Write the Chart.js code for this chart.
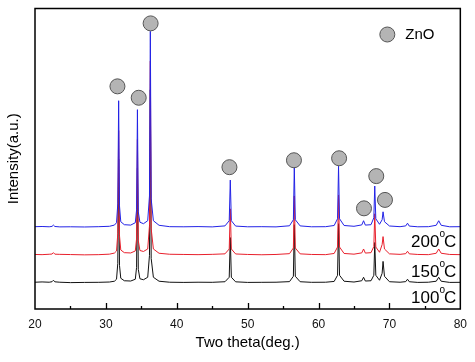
<!DOCTYPE html>
<html>
<head>
<meta charset="utf-8">
<script src="https://cdn.jsdelivr.net/npm/chart.js@4.4.0/dist/chart.umd.min.js"></script>
<style>
  body { margin: 0; background: #fff; }
</style>
</head>
<body>
<canvas id="xrd" width="475" height="362"></canvas>
<script>
"use strict";
///////////////////////////////
//Data

// 2 theta positions (deg.)
const twoTheta = [
  20, 21, 22, 22.4, 22.6, 22.8, 23.5,
  25, 27, 29, 30.5,
  31.2, 31.5, 31.68, 31.8, 31.92, 32.1, 32.6,
  33.5, 34.15, 34.33, 34.45, 34.57, 34.8,
  35.3, 35.9, 36.15, 36.27, 36.39, 36.7,
  37.5, 39, 41, 43, 45,
  46.8, 47.4, 47.55, 47.7, 48.3,
  50, 52, 54,
  55.9, 56.45, 56.58, 56.72, 57.4,
  59, 61,
  62.2, 62.68, 62.82, 62.96, 63.6,
  65, 66.1, 66.35, 66.6,
  67.4, 67.8, 67.93, 68.08, 68.6,
  68.97, 69.1, 69.3, 70,
  71.5, 72.3, 72.55, 72.8,
  74, 75.5,
  76.6, 76.95, 77.3,
  78.5, 80,
];

// intensities (a.u.) for each sample
const int100 = [
  1, 1.3, 1, 1.5, 3, 1.4, 1,
  0.6, 0.8, 0.9, 1.2,
  2, 4, 20, 125, 18, 5, 2.5,
  2.2, 4, 16, 116, 14, 4.5,
  3.5, 6, 28, 195, 25, 6,
  2, 1, 0.8, 1, 0.9,
  1.5, 6, 46, 6, 1.4,
  0.8, 0.9, 1,
  1.6, 7, 59, 7, 1.5,
  0.9, 1,
  1.8, 8, 60, 8, 2,
  1.2, 2.5, 6, 2.2,
  2.5, 8, 41, 8, 3,
  10, 22, 7, 1.5,
  1, 1.6, 4, 1.5,
  0.8, 1,
  2, 6, 2,
  0.8, 0.9,
];
const int150 = [
  1, 0.8, 1.2, 1.4, 2.8, 1.3, 1.1,
  0.9, 0.6, 0.8, 1.3,
  2.4, 4.5, 22, 126, 20, 5.5, 2.8,
  2.5, 4.5, 17, 117, 15, 5,
  4, 6.5, 30, 196, 27, 6.5,
  2.2, 1.2, 1, 0.8, 1.1,
  1.6, 6.5, 47, 6.5, 1.5,
  1, 0.7, 1,
  1.8, 7.5, 60, 7.5, 1.6,
  1, 0.8,
  2, 8.5, 61, 8.5, 2,
  1.3, 2.6, 6.5, 2.4,
  2.8, 9, 42, 8.5, 3.2,
  11, 19, 6.5, 1.6,
  1.1, 1.8, 4.2, 1.6,
  1, 0.8,
  2.2, 6.5, 2.2,
  1, 0.8,
];
const int200 = [
  1, 1.2, 0.9, 1.3, 2.6, 1.2, 0.8,
  0.9, 0.7, 1, 1.4,
  2.6, 5, 24, 128, 22, 6, 3,
  2.6, 5, 18, 119, 16, 5.5,
  4, 7, 32, 198, 29, 7,
  2.4, 1, 0.9, 1.1, 0.8,
  1.8, 7, 48, 7, 1.6,
  0.9, 1, 0.8,
  1.9, 8, 61, 8, 1.8,
  0.9, 1,
  2.2, 9, 62, 9, 2.2,
  1.4, 2.8, 7, 2.6,
  3, 10, 42, 9, 3.4,
  8, 16, 6, 1.7,
  1, 1.8, 4.5, 1.6,
  0.9, 1,
  2.4, 7, 2.4,
  0.9, 1,
];

// vertical offsets of the stacked patterns
const offsets = [26, 54, 82];
const sampleLabels = ["100", "150", "200"];

// ZnO peak markers
const markerTheta = [31.63, 34.63, 36.31, 47.43, 56.53, 62.9, 66.41, 68.14, 69.37];
const markerHeight = [224.5, 213, 288, 143, 150, 152, 101.5, 134, 110];

const xTicks = [20, 30, 40, 50, 60, 70, 80];

//////////////////////////////
//Helpers
const fontFamily = "Arial, 'Liberation Sans', sans-serif";

const toPoints = function (values, offset) {
  return twoTheta.map((t, i) => ({ x: t, y: values[i] + offset }));
};

// frame, inward ticks, legend and sample labels
const decorPlugin = {
  id: "decor",
  afterDraw(chart) {
    const { ctx, chartArea } = chart;
    const xs = chart.scales.x;
    ctx.save();

    // inward ticks on the bottom axis
    ctx.strokeStyle = "#000";
    ctx.lineWidth = 1.3;
    for (let v = 25; v < 80; v += 5) {
      const px = Math.round(xs.getPixelForValue(v)) + 0.5;
      const len = v % 10 === 0 ? 6 : 3;
      ctx.beginPath();
      ctx.moveTo(px, chartArea.bottom);
      ctx.lineTo(px, chartArea.bottom - len);
      ctx.stroke();
    }

    // box
    ctx.lineWidth = 1.5;
    ctx.strokeRect(
      chartArea.left,
      chartArea.top,
      chartArea.right - chartArea.left,
      chartArea.bottom - chartArea.top
    );

    // legend
    ctx.beginPath();
    ctx.arc(chartArea.right - 73, chartArea.top + 26, 7.5, 0, Math.PI * 2);
    ctx.fillStyle = "#b4b4b4";
    ctx.fill();
    ctx.lineWidth = 1;
    ctx.strokeStyle = "#555";
    ctx.stroke();
    ctx.fillStyle = "#000";
    ctx.font = `15px ${fontFamily}`;
    ctx.textBaseline = "middle";
    ctx.textAlign = "left";
    ctx.fillText("ZnO", chartArea.right - 55, chartArea.top + 26);

    // sample labels, e.g. 200 oC
    const drawTemp = function (num, baseline) {
      const right = chartArea.right - 4;
      ctx.textBaseline = "alphabetic";
      ctx.textAlign = "right";
      ctx.font = `17px ${fontFamily}`;
      ctx.fillText("C", right, baseline);
      const cw = ctx.measureText("C").width;
      ctx.font = `10px ${fontFamily}`;
      const ow = ctx.measureText("o").width;
      ctx.fillText("o", right - cw + 1, baseline - 10);
      ctx.font = `17px ${fontFamily}`;
      ctx.fillText(num, right - cw - ow + 1, baseline);
    };
    drawTemp(sampleLabels[2], chartArea.bottom - 62);
    drawTemp(sampleLabels[1], chartArea.bottom - 32);
    drawTemp(sampleLabels[0], chartArea.bottom - 6.5);

    ctx.restore();
  },
};

//////////////////////////////
//Chart
const chart = new Chart(document.getElementById("xrd"), {
  type: "line",
  data: {
    datasets: [
      {
        label: "ZnO",
        data: markerTheta.map((t, i) => ({ x: t, y: markerHeight[i] })),
        showLine: false,
        pointRadius: 7.5,
        pointBackgroundColor: "#b4b4b4",
        pointBorderColor: "#555",
        pointBorderWidth: 1,
      },
      {
        label: sampleLabels[2],
        data: toPoints(int200, offsets[2]),
        borderColor: "#2323e6",
        borderWidth: 1,
        pointRadius: 0,
      },
      {
        label: sampleLabels[1],
        data: toPoints(int150, offsets[1]),
        borderColor: "#e8202c",
        borderWidth: 1,
        pointRadius: 0,
      },
      {
        label: sampleLabels[0],
        data: toPoints(int100, offsets[0]),
        borderColor: "#111",
        borderWidth: 1,
        pointRadius: 0,
      },
    ],
  },
  options: {
    responsive: false,
    animation: false,
    layout: { padding: { top: 6, right: 14, left: 0, bottom: 0 } },
    plugins: {
      legend: { display: false },
      tooltip: { enabled: false },
    },
    scales: {
      x: {
        type: "linear",
        min: 20,
        max: 80,
        afterFit: (s) => { s.height = 53; },
        afterBuildTicks: (s) => { s.ticks = xTicks.map((v) => ({ value: v })); },
        grid: { display: false, drawTicks: false },
        border: { display: false },
        ticks: {
          padding: 8,
          color: "#111",
          font: { family: fontFamily, size: 12 },
        },
        title: {
          display: true,
          text: "Two theta(deg.)",
          color: "#000",
          font: { family: fontFamily, size: 15 },
          padding: { top: 0, bottom: 10 },
        },
      },
      y: {
        min: 0,
        max: 303,
        afterFit: (s) => { s.width = 35; },
        grid: { display: false, drawTicks: false },
        border: { display: false },
        ticks: { display: false },
        title: {
          display: true,
          text: "Intensity(a.u.)",
          color: "#000",
          font: { family: fontFamily, size: 15 },
          padding: { top: 5, bottom: 0 },
        },
      },
    },
  },
  plugins: [decorPlugin],
});
</script>
</body>
</html>
